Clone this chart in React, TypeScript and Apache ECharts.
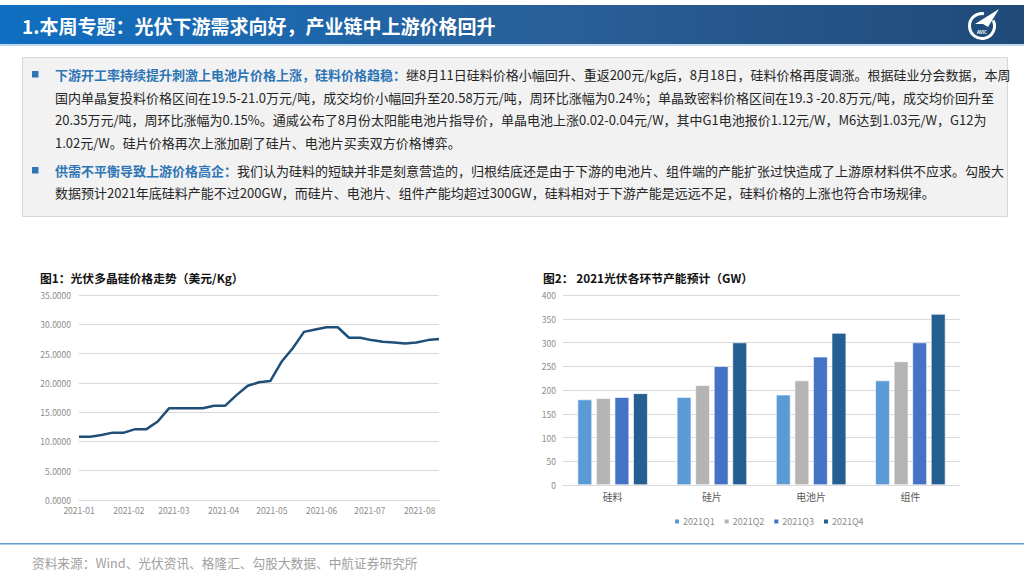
import React, { useEffect, useRef } from 'react';
import * as echarts from 'echarts';

const FONT = '"Noto Sans CJK SC", "Noto Sans", sans-serif';

// ---------- data ----------
const headerTitle = '1.本周专题：光伏下游需求向好，产业链中上游价格回升';

const para1Head = '下游开工率持续提升刺激上电池片价格上涨，硅料价格趋稳：';
const para1Lines = [
  '继8月11日硅料价格小幅回升、重返200元/kg后，8月18日，硅料价格再度调涨。根据硅业分会数据，本周',
  '国内单晶复投料价格区间在19.5-21.0万元/吨，成交均价小幅回升至20.58万元/吨，周环比涨幅为0.24%；单晶致密料价格区间在19.3 -20.8万元/吨，成交均价回升至',
  '20.35万元/吨，周环比涨幅为0.15%。通威公布了8月份太阳能电池片指导价，单晶电池上涨0.02-0.04元/W，其中G1电池报价1.12元/W，M6达到1.03元/W，G12为',
  '1.02元/W。硅片价格再次上涨加剧了硅片、电池片买卖双方价格博弈。',
];
const para2Head = '供需不平衡导致上游价格高企：';
const para2Lines = [
  '我们认为硅料的短缺并非是刻意营造的，归根结底还是由于下游的电池片、组件端的产能扩张过快造成了上游原材料供不应求。勾股大',
  '数据预计2021年底硅料产能不过200GW，而硅片、电池片、组件产能均超过300GW，硅料相对于下游产能是远远不足，硅料价格的上涨也符合市场规律。',
];

const chart1Title = '图1：光伏多晶硅价格走势（美元/Kg）';
const chart2Title = '图2： 2021光伏各环节产能预计（GW）';
const sourceText = '资料来源：Wind、光伏资讯、格隆汇、勾股大数据、中航证券研究所';

const priceDates = [
  '2021-01-01', '2021-01-08', '2021-01-15', '2021-01-22', '2021-01-29',
  '2021-02-05', '2021-02-12', '2021-02-19', '2021-02-26',
  '2021-03-05', '2021-03-12', '2021-03-19', '2021-03-26',
  '2021-04-02', '2021-04-09', '2021-04-16', '2021-04-23', '2021-04-30',
  '2021-05-07', '2021-05-14', '2021-05-21', '2021-05-28',
  '2021-06-04', '2021-06-11', '2021-06-18', '2021-06-25',
  '2021-07-02', '2021-07-09', '2021-07-16', '2021-07-23', '2021-07-30',
  '2021-08-06', '2021-08-13',
];
const priceValues = [
  10.8, 10.8, 11.1, 11.5, 11.5, 12.1, 12.1, 13.4, 15.65,
  15.65, 15.65, 15.65, 16.1, 16.1, 17.9, 19.5, 20.1, 20.3,
  23.6, 25.9, 28.7, 29.1, 29.5, 29.5, 27.7, 27.7, 27.3,
  27.0, 26.9, 26.7, 26.9, 27.3, 27.5,
];

const capCategories = ['硅料', '硅片', '电池片', '组件'];
const quarterNames = ['2021Q1', '2021Q2', '2021Q3', '2021Q4'];
const capQ1 = [180, 185, 190, 220];
const capQ2 = [183, 210, 220, 260];
const capQ3 = [185, 250, 270, 300];
const capQ4 = [193, 300, 320, 360];
const capSeries = [capQ1, capQ2, capQ3, capQ4];
const quarterColors = ['#5b9bd5', '#b4b4b4', '#4472c4', '#255e91'];

// ---------- component ----------
export default function App() {
  const ref = useRef<HTMLDivElement>(null);

  useEffect(() => {
    if (!ref.current) return;
    const chart = echarts.init(ref.current, undefined, { renderer: 'svg' });

    const bodyRich = {
      b: { fill: '#2e75b6', fontWeight: 'bold', fontSize: 13, fontFamily: FONT },
      n: { fill: '#262626', fontSize: 13, fontFamily: FONT },
    };
    const lineYs1 = [74, 97, 119.5, 142];
    const lineYs2 = [170, 192];

    const textLines: any[] = [];
    para1Lines.forEach((t, i) => {
      textLines.push({
        type: 'text',
        x: 55,
        y: lineYs1[i],
        style: {
          text: i === 0 ? `{b|${para1Head}}{n|${t}}` : `{n|${t}}`,
          rich: bodyRich,
          verticalAlign: 'middle',
        },
      });
    });
    para2Lines.forEach((t, i) => {
      textLines.push({
        type: 'text',
        x: 55,
        y: lineYs2[i],
        style: {
          text: i === 0 ? `{b|${para2Head}}{n|${t}}` : `{n|${t}}`,
          rich: bodyRich,
          verticalAlign: 'middle',
        },
      });
    });

    const graphic: any[] = [
      // header band
      {
        type: 'rect',
        shape: { x: 0, y: 5, width: 1024, height: 39 },
        style: {
          fill: new echarts.graphic.LinearGradient(0, 0, 1, 0, [
            { offset: 0, color: '#0f6fc2' },
            { offset: 0.55, color: '#2a5f98' },
            { offset: 1, color: '#1f4a78' },
          ]),
        },
      },
      { type: 'rect', shape: { x: 0, y: 44, width: 1024, height: 2 }, style: { fill: '#bdd7ee' } },
      {
        type: 'text',
        x: 22,
        y: 25,
        style: {
          text: headerTitle,
          fill: '#ffffff',
          fontSize: 19,
          fontWeight: 'bold',
          fontFamily: FONT,
          verticalAlign: 'middle',
        },
      },
      // logo
      {
        type: 'arc',
        shape: { cx: 982, cy: 26, r: 12.5, startAngle: -0.15 * Math.PI, endAngle: 1.55 * Math.PI, clockwise: true },
        style: { stroke: '#ffffff', lineWidth: 3, fill: 'none' },
      },
      {
        type: 'polygon',
        shape: { points: [[975, 24], [999, 9], [988, 27], [983, 24]] },
        style: { fill: '#ffffff' },
      },
      {
        type: 'text',
        x: 982,
        y: 32,
        style: { text: 'AVIC', fill: '#ffffff', fontSize: 4.5, fontWeight: 'bold', fontFamily: FONT, align: 'center', verticalAlign: 'middle' },
      },
      // text box
      {
        type: 'rect',
        shape: { x: 22.5, y: 57.5, width: 985, height: 159 },
        style: { fill: '#f2f2f2', stroke: '#d6d6d6', lineWidth: 1 },
      },
      { type: 'rect', shape: { x: 32, y: 71, width: 6.5, height: 6.5 }, style: { fill: '#2e75b6' } },
      { type: 'rect', shape: { x: 32, y: 167, width: 6.5, height: 6.5 }, style: { fill: '#2e75b6' } },
      ...textLines,
      // chart titles
      {
        type: 'text',
        x: 40,
        y: 277,
        style: { text: chart1Title, fill: '#111111', fontSize: 11.8, fontWeight: 'bold', fontFamily: FONT, verticalAlign: 'middle' },
      },
      {
        type: 'text',
        x: 543,
        y: 277,
        style: { text: chart2Title, fill: '#111111', fontSize: 11.8, fontWeight: 'bold', fontFamily: FONT, verticalAlign: 'middle' },
      },
      // footer
      { type: 'rect', shape: { x: 0, y: 543, width: 1024, height: 1.5 }, style: { fill: '#5b9bd5' } },
      {
        type: 'text',
        x: 32,
        y: 562,
        style: { text: sourceText, fill: '#a0a0a0', fontSize: 12.7, fontFamily: FONT, verticalAlign: 'middle' },
      },
    ];

    const axisLabelStyle = { color: '#8c8c8c', fontSize: 8.5, fontFamily: FONT };

    chart.setOption({
      animation: false,
      backgroundColor: '#ffffff',
      textStyle: { fontFamily: FONT },
      grid: [
        { left: 79, top: 295, width: 360, height: 205, containLabel: false },
        { left: 563, top: 295, width: 397, height: 190, containLabel: false },
      ],
      legend: {
        data: quarterNames,
        left: 668,
        top: 512,
        itemWidth: 6,
        itemHeight: 6,
        itemGap: 8,
        icon: 'rect',
        textStyle: { color: '#8c8c8c', fontSize: 9, fontFamily: FONT, padding: [0, 0, 0, -2] },
      },
      xAxis: [
        {
          type: 'time',
          gridIndex: 0,
          min: '2021-01-01',
          max: '2021-08-13',
          minInterval: 28 * 86400000,
          maxInterval: 31 * 86400000,
          axisLine: { show: true, lineStyle: { color: '#d9d9d9' } },
          axisTick: { show: false },
          splitLine: { show: false },
          axisLabel: { ...axisLabelStyle, formatter: '{yyyy}-{MM}', margin: 6, hideOverlap: false },
        },
        {
          type: 'category',
          gridIndex: 1,
          data: capCategories,
          axisLine: { show: true, lineStyle: { color: '#d9d9d9' } },
          axisTick: { show: false },
          axisLabel: { color: '#595959', fontSize: 10, fontFamily: FONT, margin: 6 },
        },
      ],
      yAxis: [
        {
          type: 'value',
          gridIndex: 0,
          min: 0,
          max: 35,
          interval: 5,
          axisLine: { show: false },
          axisTick: { show: false },
          splitLine: { lineStyle: { color: '#d9d9d9' } },
          axisLabel: { ...axisLabelStyle, margin: 8, formatter: (v: number) => v.toFixed(4) },
        },
        {
          type: 'value',
          gridIndex: 1,
          min: 0,
          max: 400,
          interval: 50,
          axisLine: { show: false },
          axisTick: { show: false },
          splitLine: { lineStyle: { color: '#d9d9d9' } },
          axisLabel: { ...axisLabelStyle, margin: 7 },
        },
      ],
      series: [
        {
          type: 'line',
          name: 'price',
          xAxisIndex: 0,
          yAxisIndex: 0,
          data: priceDates.map((d, i) => [d, priceValues[i]]),
          showSymbol: false,
          lineStyle: { color: '#1f4e79', width: 2.5 },
          itemStyle: { color: '#1f4e79' },
        },
        ...capSeries.map((vals, i) => ({
          type: 'bar',
          name: quarterNames[i],
          xAxisIndex: 1,
          yAxisIndex: 1,
          data: vals,
          barWidth: 14.5,
          barGap: '28%',
          itemStyle: { color: quarterColors[i], borderColor: '#ffffff', borderWidth: 0.6 },
        })),
      ],
      graphic,
    });

    return () => chart.dispose();
  }, []);

  return (
    <div
      ref={ref}
      style={{ position: 'absolute', left: 0, top: 0, width: 1024, height: 576 }}
    />
  );
}
